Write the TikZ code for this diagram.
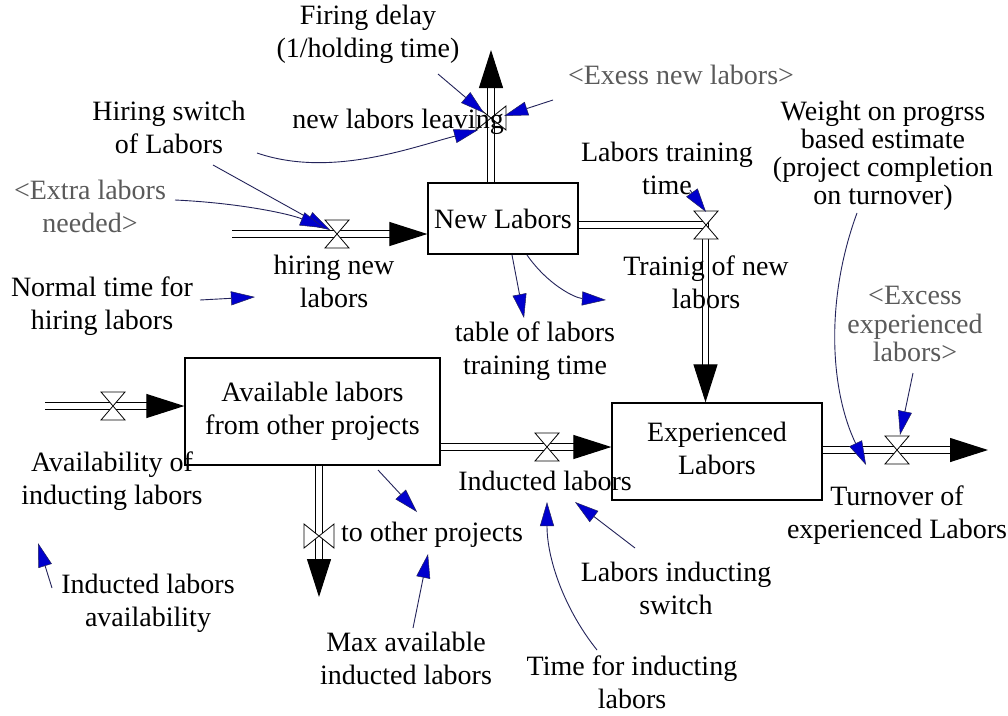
\documentclass[tikz,border=0pt]{standalone}
\usepackage{fontspec}
\setmainfont{Liberation Serif}
\usetikzlibrary{arrows.meta,calc}
\definecolor{navy}{RGB}{35,35,90}
\definecolor{tipblue}{RGB}{0,0,205}
\definecolor{shadowtxt}{RGB}{90,90,90}
\tikzset{
  lbl/.style={font=\fontsize{28}{33}\selectfont, inner sep=0pt, align=center, text=black},
  shd/.style={lbl, text=shadowtxt},
  stock/.style={draw=black, line width=1.3pt, fill=white, inner sep=0pt, align=center,
                font=\fontsize{28}{33}\selectfont},
  pipe/.style={draw=black, line width=1.1pt, double=white, double distance=5.6pt,
               -{Triangle[length=38pt,width=24pt]}},
  link/.style={draw=navy, line width=0.9pt,
               -{Triangle[length=24pt,width=14pt,fill=tipblue,line width=0.5pt]}},
  valveH/.pic={\filldraw[fill=white,draw=black,line width=0.8pt]
      (-12,-14) -- (12,-14) -- (-12,14) -- (12,14) -- cycle;},
  valveV/.pic={\filldraw[fill=white,draw=black,line width=0.8pt]
      (-15,-12) -- (-15,12) -- (15,-12) -- (15,12) -- cycle;}
}
\begin{document}
\begin{tikzpicture}[x=1pt,y=-1pt]
\fill[white] (0,0) rectangle (1008,715);
\useasboundingbox (0,0) rectangle (1008,715);

% ---------- stocks ----------
\node[stock, minimum width=150pt, minimum height=71pt] (NL) at (503,218.5) {New Labors};
\node[stock, minimum width=255pt, minimum height=107pt] (AL) at (312.5,411.5)
   {\strut Available labors\\\strut from other projects};
\node[stock, minimum width=210pt, minimum height=97pt] (EL) at (717,451.5)
   {\strut Experienced\\\strut Labors};

% ---------- flow end points ----------
\coordinate (hsrc) at (232,234);
\coordinate (leaveTop) at (491,50);
\coordinate (trcorner) at (705.5,225);
\coordinate (avsrc) at (45,406);
\coordinate (otsink) at (319,597);
\coordinate (indy) at (0,447);
\coordinate (tosink) at (988,450);

% ---------- flows ----------
\draw[pipe] (hsrc) -- (hsrc -| NL.west);
\draw[pipe] (leaveTop |- NL.north) -- (leaveTop);
\draw[pipe] (trcorner -| NL.east) -- (trcorner) -- (trcorner |- EL.north);
\draw[pipe] (avsrc) -- (avsrc -| AL.west);
\draw[pipe] (otsink |- AL.south) -- (otsink);
\draw[pipe] (AL.east |- indy) -- (EL.west |- indy);
\draw[pipe] (EL.east |- tosink) -- (tosink);

% ---------- valves ----------
\pic at (337,234) {valveH};
\pic at (491,118) {valveV};
\pic at (706,225) {valveH};
\pic at (113,406) {valveH};
\pic at (319,536) {valveV};
\pic at (547,447) {valveH};
\pic at (897,450) {valveH};

% ---------- labels ----------
\node[lbl] (FD) at (368,34) {\strut Firing delay\\\strut(1/holding time)};
\node[lbl] (NLL) at (398,122) {new labors leaving};
\node[shd] (ENL) at (681,75) {<Exess new labors>};
\node[lbl] (HS) at (169,130) {\strut Hiring switch\\\strut of Labors};
\node[shd] (ELN) at (90,209.5) {\strut <Extra labors\\\strut needed>};
\node[lbl] (HNL) at (334,284) {\strut hiring new\\\strut labors};
\node[lbl] (NTH) at (102,306.5) {\strut Normal time for\\\strut hiring labors};
\node[lbl] (LTT) at (667,171.5) {\strut Labors training\\\strut time};
\node[lbl] (TNL) at (706,285) {\strut Trainig of new\\\strut labors};
\node[lbl] (TLT) at (535,351.5) {\strut table of labors\\\strut training time};
\node[lbl, font=\fontsize{28}{25.7}\selectfont] (WPB) at (883,156.5)
   {\strut Weight on progrss\\\strut based estimate\\\strut (project completion\\\strut on turnover)};
\node[shd, font=\fontsize{28}{27.5}\selectfont] (EEL) at (915,327.5)
   {\strut <Excess\\\strut experienced\\\strut labors>};
\node[lbl] (AIL) at (112,481) {\strut Availability of\\\strut inducting labors};
\node[lbl] (IL) at (545,481) {Inducted labors};
\node[lbl] (TOP) at (432,535) {to other projects};
\node[lbl] (ILA) at (148,603.5) {\strut Inducted labors\\\strut availability};
\node[lbl] (MAI) at (406,661.5) {\strut Max available\\\strut inducted labors};
\node[lbl] (LIS) at (676,591.5) {\strut Labors inducting\\\strut switch};
\node[lbl] (TFI) at (632,685) {\strut Time for inducting\\\strut labors};
\node[lbl] (TOE) at (897,515.5) {\strut Turnover of\\\strut experienced Labors};

% ---------- link end points ----------
\coordinate (a1) at (438,74);  \coordinate (a2) at (484,113);
\coordinate (b1) at (553,100); \coordinate (b2) at (504,116);
\coordinate (c1) at (257,153); \coordinate (c2) at (478,130);
\coordinate (d1) at (213,165); \coordinate (d2) at (330,230);
\coordinate (e1) at (175,200); \coordinate (e2) at (324,228);
\coordinate (f1) at (200,300); \coordinate (f2) at (255,297);
\coordinate (g1) at (690,190); \coordinate (g2) at (706,212);
\coordinate (h1) at (512,255); \coordinate (h2) at (524,318);
\coordinate (i1) at (527,255); \coordinate (i2) at (606,300);
\coordinate (j1) at (857,213); \coordinate (j2) at (866,465);
\coordinate (k1) at (913,373); \coordinate (k2) at (900,435);
\coordinate (l1) at (378,470); \coordinate (l2) at (417,512);
\coordinate (m1) at (413,628); \coordinate (m2) at (428,554);
\coordinate (n1) at (635,548); \coordinate (n2) at (575,502);
\coordinate (o1) at (597,650); \coordinate (o2) at (547,502);
\coordinate (p1) at (52,588);  \coordinate (p2) at (38,543);

% ---------- links ----------
\draw[link] (a1) -- (a2);
\draw[link] (b1) -- (b2);
\draw[link] (c1) .. controls (330,178) and (410,148) .. (c2);
\draw[link] (d1) -- (d2);
\draw[link] (e1) .. controls (240,203) and (290,214) .. (e2);
\draw[link] (f1) -- (f2);
\draw[link] (g1) -- (g2);
\draw[link] (h1) -- (h2);
\draw[link] (i1) .. controls (548,285) and (575,298) .. (i2);
\draw[link] (j1) .. controls (825,300) and (830,390) .. (j2);
\draw[link] (k1) -- (k2);
\draw[link] (l1) -- (l2);
\draw[link] (m1) -- (m2);
\draw[link] (n1) -- (n2);
\draw[link] (o1) .. controls (565,610) and (547,560) .. (o2);
\draw[link] (p1) -- (p2);
\end{tikzpicture}
\end{document}
